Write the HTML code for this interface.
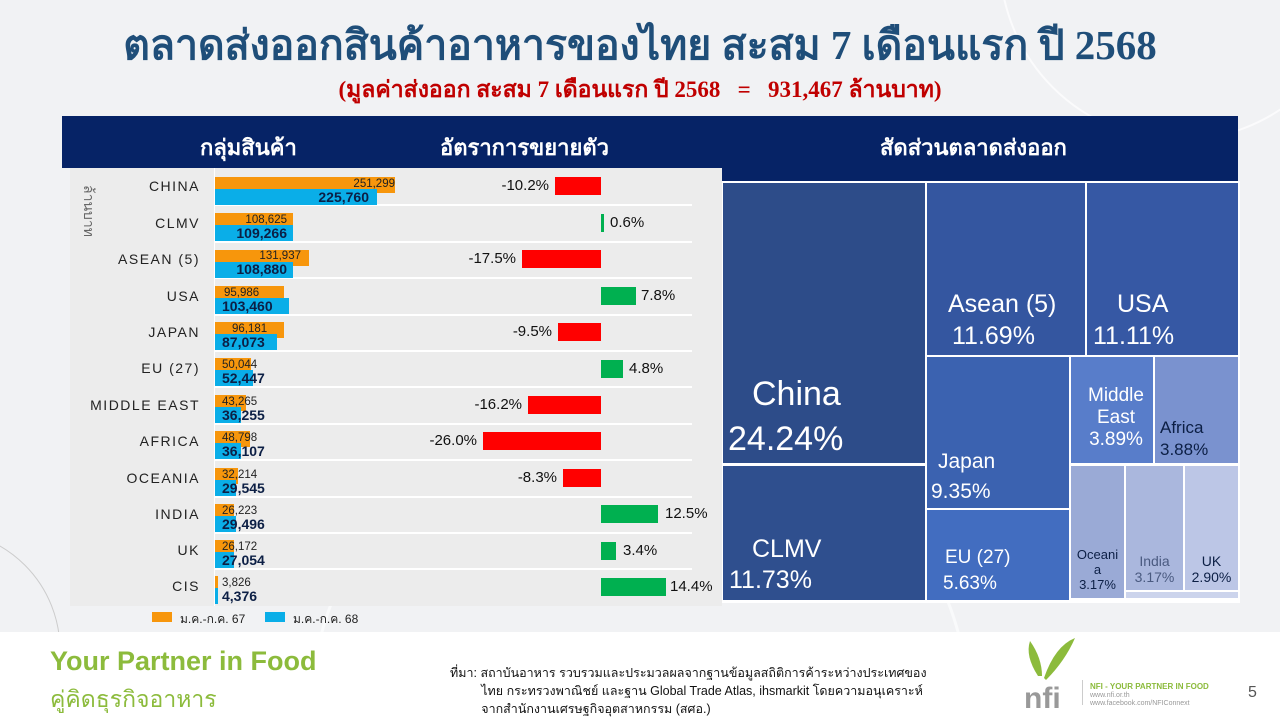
<!DOCTYPE html>
<html><head><meta charset="utf-8"><style>
*{margin:0;padding:0;box-sizing:border-box}
body{width:1280px;height:720px;overflow:hidden;background:#f1f2f4;position:relative;font-family:"Liberation Sans","DejaVu Sans",sans-serif}
.a{position:absolute}
.t{position:absolute;white-space:nowrap}
.cl{font-size:14px;letter-spacing:1.5px;color:#222;text-align:right;width:190px;left:10px}
.ov{font-size:11.5px;color:#222}
.bv{font-size:14px;font-weight:bold;color:#0c1f45}
.g{font-size:15px;color:#111}
.tm{position:absolute;color:#fff;font-family:"Liberation Sans","DejaVu Sans",sans-serif;line-height:1.15}
.sep{position:absolute;height:2px;background:#fff;left:215px;width:477px}
</style></head><body>
<svg class="a" style="left:0;top:0" width="1280" height="720"><circle cx="1180" cy="-40" r="180" fill="none" stroke="#fff" stroke-width="2" opacity=".7"/><circle cx="640" cy="720" r="330" fill="none" stroke="#fff" stroke-width="3" opacity=".6"/><circle cx="-60" cy="650" r="120" fill="none" stroke="#ccc" stroke-width="1"/></svg>
<div class="t" style="left:0;width:1280px;text-align:center;top:13px;font:bold 41px 'Liberation Serif',serif;color:#1f4e79">ตลาดส่งออกสินค้าอาหารของไทย สะสม 7 เดือนแรก ปี 2568</div>
<div class="t" style="left:0;width:1280px;text-align:center;top:72px;font:bold 23px 'Liberation Serif',serif;color:#c00000">(มูลค่าส่งออก สะสม 7 เดือนแรก ปี 2568 &nbsp;&nbsp;= &nbsp;&nbsp;931,467 ล้านบาท)</div>
<div class="a" style="left:62px;top:116px;width:1176px;height:52px;background:#062366"></div>
<div class="a" style="left:722px;top:160px;width:516px;height:21px;background:#062366"></div>
<div class="t" style="left:200px;top:130px;color:#fff;font:bold 22px 'Liberation Serif',serif">กลุ่มสินค้า</div>
<div class="t" style="left:440px;top:130px;color:#fff;font:bold 22px 'Liberation Serif',serif">อัตราการขยายตัว</div>
<div class="t" style="left:880px;top:130px;color:#fff;font:bold 22px 'Liberation Serif',serif">สัดส่วนตลาดส่งออก</div>
<div class="a" style="left:70px;top:168px;width:652px;height:438px;background:#ececec"></div>
<div class="t" style="left:62px;top:200px;font-size:14px;color:#666;transform:rotate(90deg)">ล้านบาท</div>
<div class="a" style="left:214px;top:168px;width:1px;height:438px;background:#fff"></div>
<div class="a" style="left:722px;top:181px;width:518px;height:422px;background:#fff"></div>
<div class="a" style="left:723px;top:183px;width:202px;height:280px;background:#2d4c89"></div>
<div class="a" style="left:723px;top:466px;width:202px;height:134px;background:#2f4f8e"></div>
<div class="a" style="left:927px;top:183px;width:158px;height:172px;background:#3456a0"></div>
<div class="a" style="left:1087px;top:183px;width:151px;height:172px;background:#3658a4"></div>
<div class="a" style="left:927px;top:357px;width:142px;height:151px;background:#3b62b0"></div>
<div class="a" style="left:927px;top:510px;width:142px;height:90px;background:#426dc0"></div>
<div class="a" style="left:1071px;top:357px;width:82px;height:106px;background:#587dca"></div>
<div class="a" style="left:1155px;top:357px;width:83px;height:106px;background:#7a92cf"></div>
<div class="a" style="left:1071px;top:466px;width:53px;height:132px;background:#9aaad6"></div>
<div class="a" style="left:1126px;top:466px;width:57px;height:124px;background:#aab7dd"></div>
<div class="a" style="left:1185px;top:466px;width:53px;height:124px;background:#bcc6e6"></div>
<div class="a" style="left:1126px;top:592px;width:112px;height:6px;background:#ccd4ec"></div>
<div class="tm" style="left:752px;top:375px;font-size:34px">China</div>
<div class="tm" style="left:728px;top:420px;font-size:34px">24.24%</div>
<div class="tm" style="left:752px;top:535px;font-size:25px">CLMV</div>
<div class="tm" style="left:729px;top:566px;font-size:25px">11.73%</div>
<div class="tm" style="left:948px;top:290px;font-size:25px">Asean (5)</div>
<div class="tm" style="left:952px;top:322px;font-size:25px">11.69%</div>
<div class="tm" style="left:1117px;top:290px;font-size:25px">USA</div>
<div class="tm" style="left:1093px;top:322px;font-size:25px">11.11%</div>
<div class="tm" style="left:938px;top:450px;font-size:21px">Japan</div>
<div class="tm" style="left:931px;top:480px;font-size:21px">9.35%</div>
<div class="tm" style="left:945px;top:547px;font-size:19px">EU (27)</div>
<div class="tm" style="left:943px;top:573px;font-size:19px">5.63%</div>
<div class="tm" style="left:1076px;top:385px;width:80px;text-align:center;font-size:19px">Middle<br>East<br>3.89%</div>
<div class="tm" style="left:1160px;top:418px;font-size:17px;color:#0c1f45">Africa</div>
<div class="tm" style="left:1160px;top:440px;font-size:17px;color:#0c1f45">3.88%</div>
<div class="tm" style="left:1071px;top:548px;width:53px;text-align:center;font-size:13px;color:#0c1f45">Oceani<br>a<br>3.17%</div>
<div class="tm" style="left:1126px;top:553px;width:57px;text-align:center;font-size:14px;color:#4a5a80">India<br>3.17%</div>
<div class="tm" style="left:1185px;top:553px;width:53px;text-align:center;font-size:14px;color:#0c1f45">UK<br>2.90%</div>
<div class="a" style="left:152px;top:612px;width:20px;height:10px;background:#f7960c"></div>
<div class="t" style="left:180px;top:610px;font-size:12px;color:#222">ม.ค.-ก.ค. 67</div>
<div class="a" style="left:265px;top:612px;width:20px;height:10px;background:#0aaee8"></div>
<div class="t" style="left:293px;top:610px;font-size:12px;color:#222">ม.ค.-ก.ค. 68</div>
<div class="a" style="left:0;top:632px;width:1280px;height:88px;background:#fff"></div>
<div class="t" style="left:50px;top:646px;font-size:27px;font-weight:bold;color:#8cbb3c">Your Partner in Food</div>
<div class="t" style="left:50px;top:682px;font-size:23px;color:#8cbb3c">คู่คิดธุรกิจอาหาร</div>
<div class="t" style="left:450px;top:664px;font-size:12.5px;color:#111;line-height:18px;height:54px;overflow:hidden">ที่มา: สถาบันอาหาร รวบรวมและประมวลผลจากฐานข้อมูลสถิติการค้าระหว่างประเทศของ<br>&nbsp;&nbsp;&nbsp;&nbsp;&nbsp;&nbsp;&nbsp;&nbsp;&nbsp;ไทย กระทรวงพาณิชย์ และฐาน Global Trade Atlas, ihsmarkit โดยความอนุเคราะห์<br>&nbsp;&nbsp;&nbsp;&nbsp;&nbsp;&nbsp;&nbsp;&nbsp;&nbsp;จากสำนักงานเศรษฐกิจอุตสาหกรรม (สศอ.)</div>
<svg class="a" style="left:1020px;top:636px" width="60" height="80"><path d="M18 40 Q5 20 10 5 Q22 22 22 40Z" fill="#8cbb3c"/><path d="M24 42 Q35 10 55 2 Q45 25 26 44Z" fill="#8cbb3c"/><text x="4" y="72" font-size="30" font-weight="bold" fill="#999" font-family="Liberation Sans">nfi</text></svg>
<div class="a" style="left:1082px;top:680px;width:1px;height:25px;background:#ccc"></div>
<div class="t" style="left:1090px;top:682px;font-size:8px;font-weight:bold;color:#8cbb3c">NFI - YOUR PARTNER IN FOOD</div>
<div class="t" style="left:1090px;top:692px;font-size:7px;color:#999;line-height:8px">www.nfi.or.th<br>www.facebook.com/NFIConnext</div>
<div class="t" style="left:1248px;top:684px;font-size:16px;color:#555">5</div>

<div class="cl t" style="top:178px">CHINA</div>
<div class="cl t" style="top:215px">CLMV</div>
<div class="cl t" style="top:251px">ASEAN (5)</div>
<div class="cl t" style="top:288px">USA</div>
<div class="cl t" style="top:324px">JAPAN</div>
<div class="cl t" style="top:360px">EU (27)</div>
<div class="cl t" style="top:397px">MIDDLE EAST</div>
<div class="cl t" style="top:433px">AFRICA</div>
<div class="cl t" style="top:470px">OCEANIA</div>
<div class="cl t" style="top:506px">INDIA</div>
<div class="cl t" style="top:542px">UK</div>
<div class="cl t" style="top:578px">CIS</div>

<div class="sep" style="top:204px"></div><div class="sep" style="top:241px"></div><div class="sep" style="top:277px"></div><div class="sep" style="top:314px"></div><div class="sep" style="top:350px"></div><div class="sep" style="top:386px"></div><div class="sep" style="top:423px"></div><div class="sep" style="top:459px"></div><div class="sep" style="top:496px"></div><div class="sep" style="top:532px"></div><div class="sep" style="top:568px"></div>

<div class="a" style="left:215px;top:177px;width:180px;height:16px;background:#f7960c"></div>
<div class="a" style="left:215px;top:189px;width:162px;height:16px;background:#0aaee8"></div>
<div class="t ov" style="right:885px;top:178px">251,299</div>
<div class="t bv" style="right:911px;top:189px">225,760</div>
<div class="a" style="left:215px;top:213px;width:78px;height:16px;background:#f7960c"></div>
<div class="a" style="left:215px;top:225px;width:78px;height:16px;background:#0aaee8"></div>
<div class="t ov" style="right:993px;top:214px">108,625</div>
<div class="t bv" style="right:993px;top:225px">109,266</div>
<div class="a" style="left:215px;top:250px;width:94px;height:16px;background:#f7960c"></div>
<div class="a" style="left:215px;top:262px;width:78px;height:16px;background:#0aaee8"></div>
<div class="t ov" style="right:979px;top:250px">131,937</div>
<div class="t bv" style="right:993px;top:261px">108,880</div>
<div class="a" style="left:215px;top:286px;width:69px;height:16px;background:#f7960c"></div>
<div class="a" style="left:215px;top:298px;width:74px;height:16px;background:#0aaee8"></div>
<div class="t ov" style="left:224px;top:287px">95,986</div>
<div class="t bv" style="left:222px;top:298px">103,460</div>
<div class="a" style="left:215px;top:322px;width:69px;height:16px;background:#f7960c"></div>
<div class="a" style="left:215px;top:334px;width:62px;height:16px;background:#0aaee8"></div>
<div class="t ov" style="left:232px;top:323px">96,181</div>
<div class="t bv" style="left:222px;top:334px">87,073</div>
<div class="a" style="left:215px;top:358px;width:36px;height:16px;background:#f7960c"></div>
<div class="a" style="left:215px;top:370px;width:38px;height:16px;background:#0aaee8"></div>
<div class="t ov" style="left:222px;top:359px">50,044</div>
<div class="t bv" style="left:222px;top:370px">52,447</div>
<div class="a" style="left:215px;top:395px;width:31px;height:16px;background:#f7960c"></div>
<div class="a" style="left:215px;top:407px;width:26px;height:16px;background:#0aaee8"></div>
<div class="t ov" style="left:222px;top:396px">43,265</div>
<div class="t bv" style="left:222px;top:407px">36,255</div>
<div class="a" style="left:215px;top:431px;width:35px;height:16px;background:#f7960c"></div>
<div class="a" style="left:215px;top:443px;width:26px;height:16px;background:#0aaee8"></div>
<div class="t ov" style="left:222px;top:432px">48,798</div>
<div class="t bv" style="left:222px;top:443px">36,107</div>
<div class="a" style="left:215px;top:468px;width:23px;height:16px;background:#f7960c"></div>
<div class="a" style="left:215px;top:480px;width:21px;height:16px;background:#0aaee8"></div>
<div class="t ov" style="left:222px;top:469px">32,214</div>
<div class="t bv" style="left:222px;top:480px">29,545</div>
<div class="a" style="left:215px;top:504px;width:19px;height:16px;background:#f7960c"></div>
<div class="a" style="left:215px;top:516px;width:21px;height:16px;background:#0aaee8"></div>
<div class="t ov" style="left:222px;top:505px">26,223</div>
<div class="t bv" style="left:222px;top:516px">29,496</div>
<div class="a" style="left:215px;top:540px;width:19px;height:16px;background:#f7960c"></div>
<div class="a" style="left:215px;top:552px;width:19px;height:16px;background:#0aaee8"></div>
<div class="t ov" style="left:222px;top:541px">26,172</div>
<div class="t bv" style="left:222px;top:552px">27,054</div>
<div class="a" style="left:215px;top:576px;width:3px;height:16px;background:#f7960c"></div>
<div class="a" style="left:215px;top:588px;width:3px;height:16px;background:#0aaee8"></div>
<div class="t ov" style="left:222px;top:577px">3,826</div>
<div class="t bv" style="left:222px;top:588px">4,376</div>

<div class="a" style="left:555px;top:177px;width:46px;height:18px;background:#ff0000"></div><div class="t g" style="right:731px;top:177px">-10.2%</div>
<div class="a" style="left:601px;top:214px;width:3px;height:18px;background:#00b050"></div><div class="t g" style="left:610px;top:214px">0.6%</div>
<div class="a" style="left:522px;top:250px;width:79px;height:18px;background:#ff0000"></div><div class="t g" style="right:764px;top:250px">-17.5%</div>
<div class="a" style="left:601px;top:287px;width:35px;height:18px;background:#00b050"></div><div class="t g" style="left:641px;top:287px">7.8%</div>
<div class="a" style="left:558px;top:323px;width:43px;height:18px;background:#ff0000"></div><div class="t g" style="right:728px;top:323px">-9.5%</div>
<div class="a" style="left:601px;top:360px;width:22px;height:18px;background:#00b050"></div><div class="t g" style="left:629px;top:360px">4.8%</div>
<div class="a" style="left:528px;top:396px;width:73px;height:18px;background:#ff0000"></div><div class="t g" style="right:758px;top:396px">-16.2%</div>
<div class="a" style="left:483px;top:432px;width:118px;height:18px;background:#ff0000"></div><div class="t g" style="right:803px;top:432px">-26.0%</div>
<div class="a" style="left:563px;top:469px;width:38px;height:18px;background:#ff0000"></div><div class="t g" style="right:723px;top:469px">-8.3%</div>
<div class="a" style="left:601px;top:505px;width:57px;height:18px;background:#00b050"></div><div class="t g" style="left:665px;top:505px">12.5%</div>
<div class="a" style="left:601px;top:542px;width:15px;height:18px;background:#00b050"></div><div class="t g" style="left:623px;top:542px">3.4%</div>
<div class="a" style="left:601px;top:578px;width:65px;height:18px;background:#00b050"></div><div class="t g" style="left:670px;top:578px">14.4%</div>
</body></html>
